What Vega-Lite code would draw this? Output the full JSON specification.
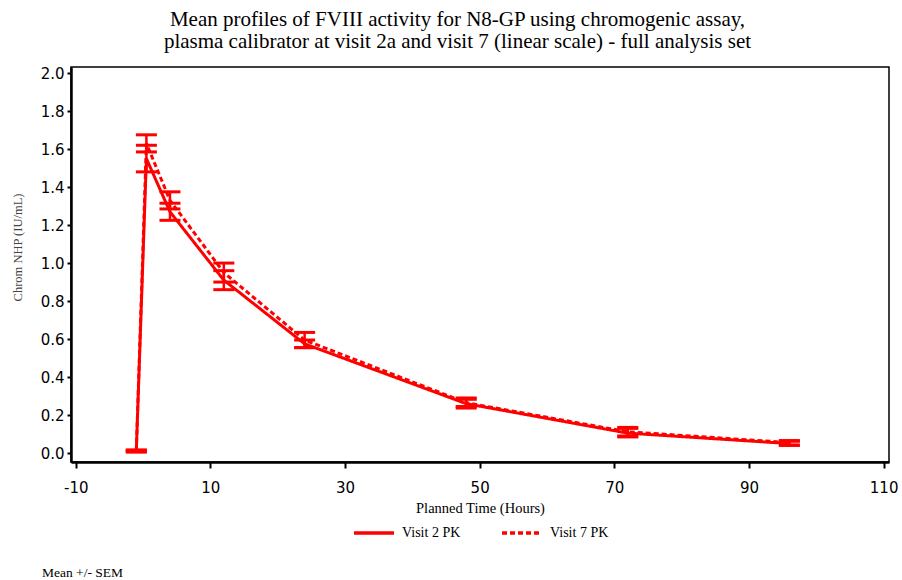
{
  "$schema": "https://vega.github.io/schema/vega-lite/v6.json",
  "autosize": "none",
  "width": 818,
  "height": 395,
  "padding": {"left": 71, "top": 67, "right": 13, "bottom": 118},
  "background": "white",
  "title": {
    "text": "Mean +/- SEM",
    "orient": "bottom",
    "anchor": "start",
    "frame": "group",
    "dx": -29,
    "offset": 26,
    "font": "Liberation Serif",
    "fontSize": 13.5,
    "fontWeight": "normal",
    "color": "black"
  },
  "config": {
    "view": {"stroke": "black", "strokeWidth": 1.5},
    "axis": {
      "domainColor": "black",
      "domainWidth": 2.5,
      "tickColor": "black",
      "labelColor": "black",
      "labelFont": "DejaVu Sans",
      "labelFontSize": 15,
      "labelOverlap": false,
      "labelBound": false,
      "labelFlush": false,
      "grid": false,
      "titleFont": "Liberation Serif",
      "titleFontWeight": "normal",
      "titleColor": "black"
    },
    "legend": {
      "labelFont": "Liberation Serif",
      "labelFontSize": 14,
      "labelColor": "black"
    }
  },
  "data": {
    "values": [
      {"visit": "Visit 2 PK", "time": -1, "mean": 0.010, "lo": 0.005, "hi": 0.015},
      {"visit": "Visit 2 PK", "time": 0.5, "mean": 1.55, "lo": 1.48, "hi": 1.62},
      {"visit": "Visit 2 PK", "time": 4, "mean": 1.27, "lo": 1.225, "hi": 1.315},
      {"visit": "Visit 2 PK", "time": 12, "mean": 0.91, "lo": 0.86, "hi": 0.96},
      {"visit": "Visit 2 PK", "time": 24, "mean": 0.575, "lo": 0.555, "hi": 0.595},
      {"visit": "Visit 2 PK", "time": 48, "mean": 0.26, "lo": 0.237, "hi": 0.283},
      {"visit": "Visit 2 PK", "time": 72, "mean": 0.105, "lo": 0.085, "hi": 0.13},
      {"visit": "Visit 2 PK", "time": 96, "mean": 0.05, "lo": 0.04, "hi": 0.062},
      {"visit": "Visit 7 PK", "time": -1, "mean": 0.012, "lo": 0.008, "hi": 0.016},
      {"visit": "Visit 7 PK", "time": 0.5, "mean": 1.63, "lo": 1.585, "hi": 1.675},
      {"visit": "Visit 7 PK", "time": 4, "mean": 1.33, "lo": 1.285, "hi": 1.375},
      {"visit": "Visit 7 PK", "time": 12, "mean": 0.95, "lo": 0.9, "hi": 1.0},
      {"visit": "Visit 7 PK", "time": 24, "mean": 0.595, "lo": 0.555, "hi": 0.635},
      {"visit": "Visit 7 PK", "time": 48, "mean": 0.265, "lo": 0.245, "hi": 0.29},
      {"visit": "Visit 7 PK", "time": 72, "mean": 0.112, "lo": 0.09, "hi": 0.135},
      {"visit": "Visit 7 PK", "time": 96, "mean": 0.055, "lo": 0.043, "hi": 0.066}
    ]
  },
  "resolve": {"axis": {"x": "independent"}},
  "layer": [
    {
      "mark": {"type": "rule", "color": "#ff0000", "strokeWidth": 2.5},
      "encoding": {
        "x": {
          "field": "time", "type": "quantitative",
          "scale": {"domain": [-10.7, 110.8], "nice": false, "zero": false},
          "axis": {
            "orient": "bottom",
            "values": [-10, 10, 30, 50, 70, 90, 110],
            "labelExpr": "replace(datum.label, '\u2212', '-')",
            "tickSize": 6,
            "tickWidth": 2,
            "labelPadding": 12,
            "labelBaseline": "top",
            "title": "Planned Time (Hours)",
            "titleFontSize": 14.5,
            "titleBaseline": "middle",
            "titleY": 46
          }
        },
        "y": {
          "field": "lo", "type": "quantitative",
          "scale": {"domain": [-0.047, 2.032], "nice": false, "zero": false},
          "axis": {
            "values": [0, 0.2, 0.4, 0.6, 0.8, 1.0, 1.2, 1.4, 1.6, 1.8, 2.0],
            "format": ".1f",
            "labelOverlap": false,
            "tickSize": 4,
            "tickWidth": 2,
            "labelPadding": 3,
            "title": "Chrom NHP (IU/mL)",
            "titleFontSize": 12.5,
            "titleColor": "#444444",
            "titleAngle": -90,
            "titleBaseline": "middle",
            "titleX": -54,
            "titleY": 180
          }
        },
        "y2": {"field": "hi"}
      }
    },
    {
      "mark": {"type": "tick", "orient": "horizontal", "color": "#ff0000", "opacity": 1, "size": 21, "thickness": 3},
      "encoding": {
        "x": {"field": "time", "type": "quantitative", "scale": {"domain": [-10.7, 110.8], "nice": false, "zero": false}, "axis": null},
        "y": {"field": "lo", "type": "quantitative", "axis": {"values": [0, 0.2, 0.4, 0.6, 0.8, 1.0, 1.2, 1.4, 1.6, 1.8, 2.0], "labelOverlap": false}}
      }
    },
    {
      "mark": {"type": "tick", "orient": "horizontal", "color": "#ff0000", "opacity": 1, "size": 21, "thickness": 3},
      "encoding": {
        "x": {"field": "time", "type": "quantitative", "scale": {"domain": [-10.7, 110.8], "nice": false, "zero": false}, "axis": null},
        "y": {"field": "hi", "type": "quantitative", "axis": {"values": [0, 0.2, 0.4, 0.6, 0.8, 1.0, 1.2, 1.4, 1.6, 1.8, 2.0], "labelOverlap": false}}
      }
    },
    {
      "mark": {"type": "line", "strokeWidth": 3},
      "encoding": {
        "x": {
          "field": "time", "type": "quantitative",
          "scale": {"domain": [-10.7, 110.8], "nice": false, "zero": false},
          "axis": {
            "orient": "top",
            "domain": false,
            "ticks": false,
            "labels": false,
            "title": ["Mean profiles of FVIII activity for N8-GP using chromogenic assay,", "plasma calibrator at visit 2a and visit 7 (linear scale) - full analysis set"],
            "titleFont": "Liberation Serif",
            "titleFontSize": 21,
            "titleLineHeight": 22,
            "titleBaseline": "bottom",
            "titleX": 386,
            "titleY": -38
          }
        },
        "y": {"field": "mean", "type": "quantitative", "axis": {"values": [0, 0.2, 0.4, 0.6, 0.8, 1.0, 1.2, 1.4, 1.6, 1.8, 2.0], "labelOverlap": false}},
        "color": {
          "field": "visit", "type": "nominal",
          "scale": {"domain": ["Visit 2 PK", "Visit 7 PK"], "range": ["#ff0000", "#ff0000"]},
          "legend": {
            "title": null,
            "orient": "none",
            "direction": "horizontal",
            "legendX": 281,
            "legendY": 444,
            "symbolType": "stroke",
            "symbolSize": 1600,
            "symbolStrokeWidth": 3.5,
            "labelOffset": 6,
            "columnPadding": 34
          }
        },
        "strokeDash": {
          "field": "visit", "type": "nominal",
          "scale": {"domain": ["Visit 2 PK", "Visit 7 PK"], "range": [[1, 0], [5, 3]]},
          "legend": {
            "title": null,
            "orient": "none",
            "direction": "horizontal",
            "legendX": 281,
            "legendY": 444,
            "symbolType": "stroke",
            "symbolSize": 1600,
            "symbolStrokeWidth": 3.5,
            "labelOffset": 6,
            "columnPadding": 34
          }
        }
      }
    }
  ]
}
